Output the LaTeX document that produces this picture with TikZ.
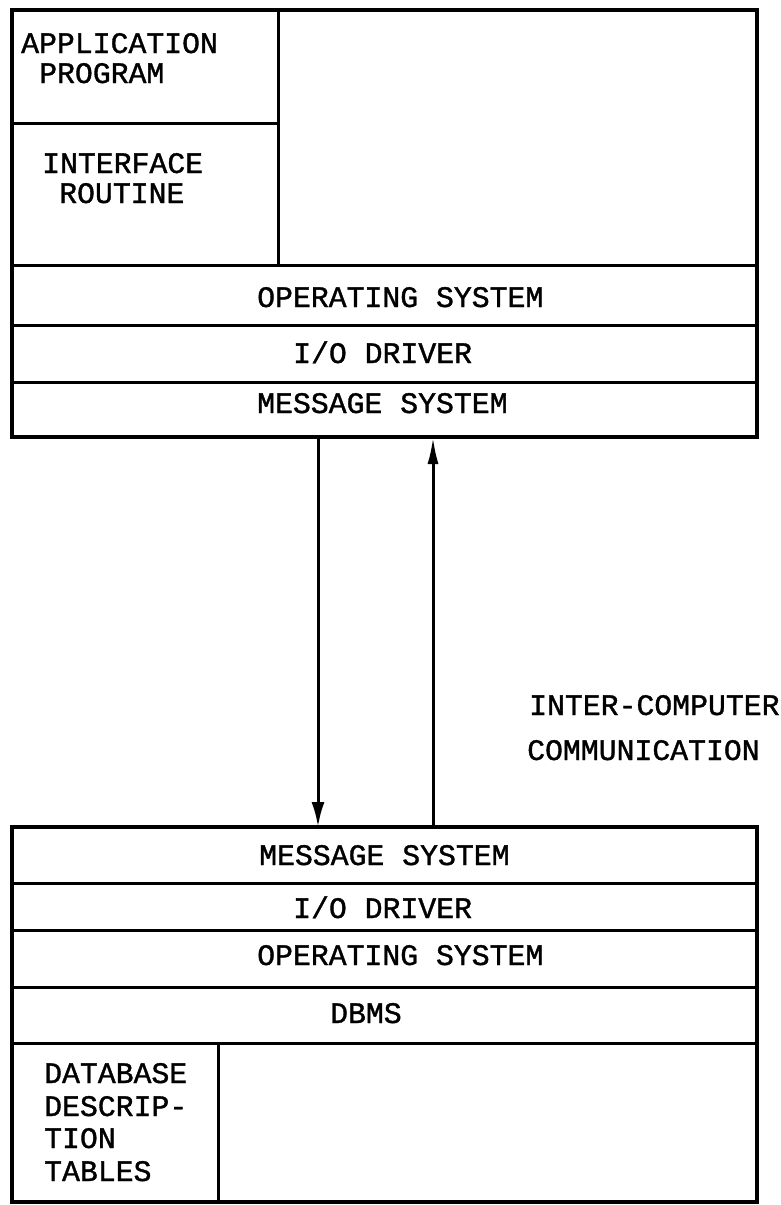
\documentclass[tikz,border=0pt]{standalone}
\usepackage{fontspec}
\setmonofont[FakeBold=1.2]{Liberation Mono}
\usetikzlibrary{arrows.meta}
\begin{document}
\begin{tikzpicture}[x=1pt,y=-1pt,
  frame/.style={line width=3.4pt,line join=miter},
  rule/.style={line width=3pt},
  txt/.style={font=\ttfamily\fontsize{29.8}{32}\selectfont,inner sep=0pt,anchor=base west},
  link/.style={line width=3pt,-{Latex[length=25pt,width=13pt]}},
  linkup/.style={line width=3pt,-{Latex[length=27pt,width=11pt]}}]
\useasboundingbox (0,0) rectangle (781,1205);

% upper computer: application side
\draw[frame] (12,10) rectangle (757,437);
\draw[rule] (278,10) -- (278,265);
\draw[rule] (12,123) -- (278,123);
\draw[rule] (12,265) -- (757,265);
\draw[rule] (12,325) -- (757,325);
\draw[rule] (12,382) -- (757,382);

\node[txt] (app)  at (21,53)  {APPLICATION};
\node[txt] (prog) at (39,83)  {PROGRAM};
\node[txt] (intf) at (42,173) {INTERFACE};
\node[txt] (rout) at (59,203) {ROUTINE};
\node[txt] (osA)  at (257,307) {OPERATING SYSTEM};
\node[txt] (ioA)  at (293,363) {I/O DRIVER};
\node[txt] (msgA) at (257,413) {MESSAGE SYSTEM};

% lower computer: database side
\draw[frame] (12,827) rectangle (757,1202);
\draw[rule] (12,883) -- (757,883);
\draw[rule] (12,930) -- (757,930);
\draw[rule] (12,987) -- (757,987);
\draw[rule] (12,1043) -- (757,1043);
\draw[rule] (218,1043) -- (218,1202);

\node[txt] (msgB) at (259,865)  {MESSAGE SYSTEM};
\node[txt] (ioB)  at (293,918)  {I/O DRIVER};
\node[txt] (osB)  at (257,965)  {OPERATING SYSTEM};
\node[txt] (dbms) at (330,1023) {DBMS};
\node[txt] (dbd1) at (44,1083)  {DATABASE};
\node[txt] (dbd2) at (44,1116)  {DESCRIP-};
\node[txt] (dbd3) at (44,1148)  {TION};
\node[txt] (dbd4) at (44,1181)  {TABLES};

% link between the two computers
\coordinate (downA) at (318,437);
\coordinate (downB) at (318,827);
\coordinate (upB)   at (433,827);
\coordinate (upA)   at (433,437);
\draw[link] (downA) -- (downB);
\draw[linkup] (upB) -- (upA);

\node[txt] (inter) at (529,715) {INTER-COMPUTER};
\node[txt] (comm)  at (527,760) {COMMUNICATION};
\end{tikzpicture}
\end{document}
